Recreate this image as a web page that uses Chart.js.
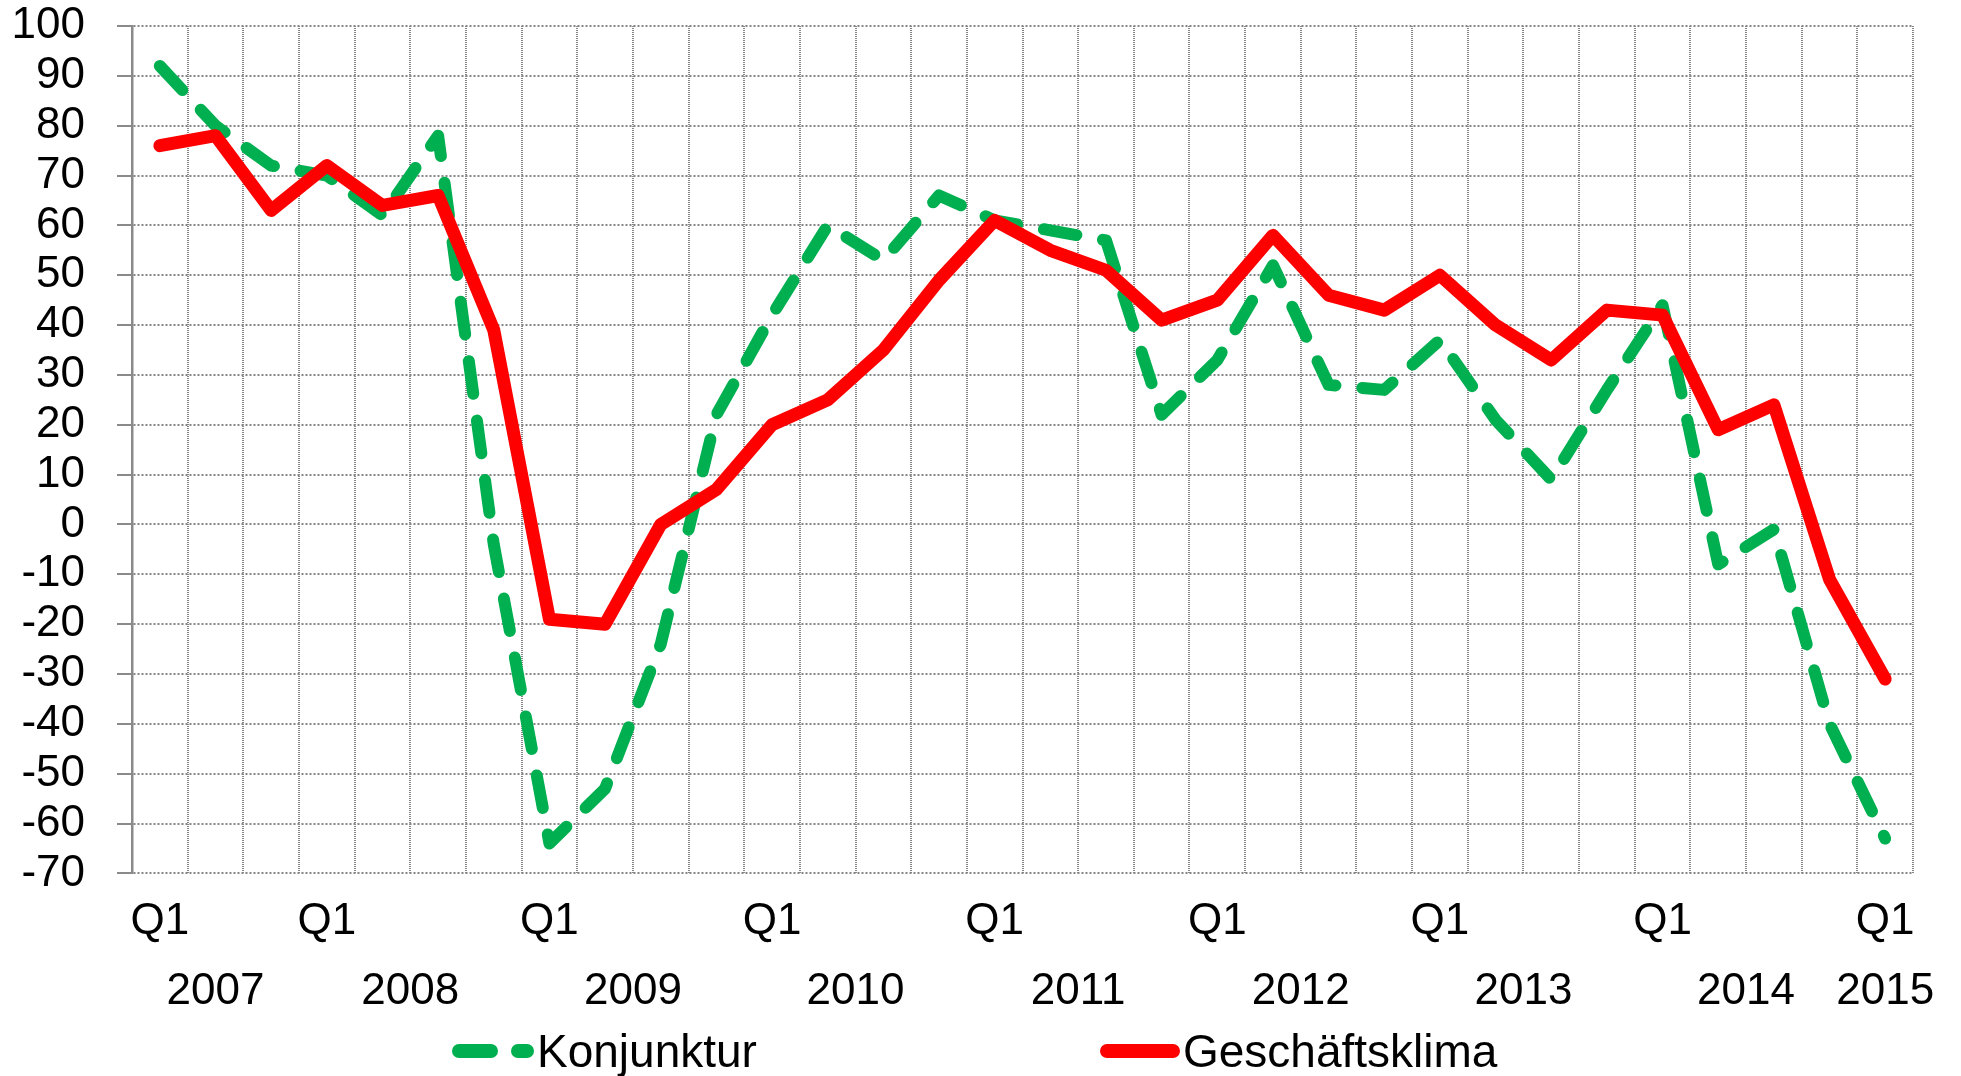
<!DOCTYPE html>
<html>
<head>
<meta charset="utf-8">
<script src="https://cdn.jsdelivr.net/npm/chart.js@4.4.1/dist/chart.umd.min.js"></script>
<style>
  html, body { margin: 0; padding: 0; background: #fff; }
  #wrap { width: 1961px; height: 1076px; }
</style>
</head>
<body>
<div id="wrap"><canvas id="lineChart"></canvas></div>
<script>
// Jahre und Anzahl der Quartale je Jahr (wie auf der Achse gruppiert)
const years = ['2007', '2008', '2009', '2010', '2011', '2012', '2013', '2014', '2015'];
const quartersPerYear = [3, 4, 4, 4, 4, 4, 4, 4, 1];

// Saldenwerte
const konjunktur = [92, 80, 72, 70, 62, 78, -4, -64, -53, -24, 22, 42, 60, 53, 66, 61,
                    59, 57, 22, 33, 52, 28, 27, 37, 21, 9, 27, 44, -8, -1, -40, -63];
const geschaeftsklima = [76, 78, 63, 72, 64, 66, 39, -19, -20, 0, 7, 20, 25, 35, 49, 61,
                         55, 51, 41, 45, 58, 46, 43, 50, 40, 33, 43, 42, 19, 24, -11, -31];

const yMin = -70;
const yMax = 100;
const yStep = 10;

const GREEN = '#00B050';
const RED = '#FF0000';
const GRID = '#858585';
const AXIS = '#8a8a8a';
const FONT = '"Liberation Sans", Arial, sans-serif';

// Kategorien aufbauen
const labels = [];
const firstOfYear = [];
const yearCenters = [];
years.forEach((y, k) => {
  const start = labels.length;
  for (let q = 0; q < quartersPerYear[k]; q++) {
    labels.push('Q' + (q + 1) + ' ' + y);
  }
  firstOfYear.push(start);
  yearCenters.push(start + (quartersPerYear[k] - 1) / 2);
});

// Legende unten selbst zeichnen (Linie + Text)
const bottomLegend = {
  id: 'bottomLegend',
  afterDraw(chart) {
    const ctx = chart.ctx;
    const y = 1051;
    const items = [
      { text: 'Konjunktur', color: GREEN, dash: [32, 27], x0: 459, x1: 527, tx: 537 },
      { text: 'Geschäftsklima', color: RED, dash: [], x0: 1107, x1: 1173, tx: 1183 }
    ];
    ctx.save();
    items.forEach(it => {
      ctx.beginPath();
      ctx.lineWidth = 14;
      ctx.lineCap = 'round';
      ctx.strokeStyle = it.color;
      ctx.setLineDash(it.dash);
      ctx.moveTo(it.x0, y);
      ctx.lineTo(it.x1, y);
      ctx.stroke();
      ctx.setLineDash([]);
      ctx.fillStyle = '#000';
      ctx.font = '46px ' + FONT;
      ctx.textBaseline = 'alphabetic';
      ctx.textAlign = 'left';
      ctx.fillText(it.text, it.tx, 1067);
    });
    ctx.restore();
  }
};

Chart.defaults.font.family = FONT;
Chart.defaults.font.size = 44;
Chart.defaults.color = '#000';

const data = {
  labels: labels,
  datasets: [{
    label: 'Konjunktur',
    data: konjunktur,
    borderColor: GREEN,
    backgroundColor: GREEN,
    borderWidth: 12,
    borderDash: [33, 27],
    borderCapStyle: 'round',
    borderJoinStyle: 'round',
    pointRadius: 0,
    tension: 0,
    order: 1
  }, {
    label: 'Geschäftsklima',
    data: geschaeftsklima,
    borderColor: RED,
    backgroundColor: RED,
    borderWidth: 13,
    borderCapStyle: 'round',
    borderJoinStyle: 'round',
    pointRadius: 0,
    tension: 0,
    order: 0
  }]
};

const config = {
  type: 'line',
  data,
  options: {
    responsive: true,
    maintainAspectRatio: false,
    animation: false,
    layout: { padding: { left: 0, right: 48, top: 0, bottom: 63 } },
    plugins: {
      legend: { display: false },
      tooltip: { enabled: false }
    },
    scales: {
      x: {
        type: 'category',
        offset: true,
        grid: { color: GRID, lineWidth: 2, offset: true, drawTicks: false },
        border: { display: false, dash: [1, 1] },
        ticks: {
          autoSkip: false,
          maxRotation: 0,
          padding: 22,
          callback: (v, i) => firstOfYear.includes(i) ? 'Q1' : ''
        }
      },
      x2: {
        type: 'linear',
        position: 'bottom',
        min: -0.5,
        max: labels.length - 0.5,
        grid: { display: false, drawTicks: false },
        border: { display: false },
        afterBuildTicks: axis => { axis.ticks = yearCenters.map(v => ({ value: v })); },
        ticks: {
          autoSkip: false,
          maxRotation: 0,
          padding: -5,
          callback: v => years[yearCenters.indexOf(v)]
        }
      },
      y: {
        min: yMin,
        max: yMax,
        afterFit: scale => {
          scale.width = 132;
          scale.paddingTop = 26;
          scale.paddingBottom = 20;
        },
        ticks: { stepSize: yStep, padding: 32, autoSkip: false },
        grid: { color: GRID, lineWidth: 2, tickLength: 15, tickColor: AXIS, tickWidth: 2, tickBorderDash: [] },
        border: { display: true, color: AXIS, width: 2.5, dash: [2, 2] }
      }
    }
  },
  plugins: [bottomLegend]
};

var lineChart = new Chart(
  document.getElementById('lineChart'),
  config,
);
</script>
</body>
</html>
